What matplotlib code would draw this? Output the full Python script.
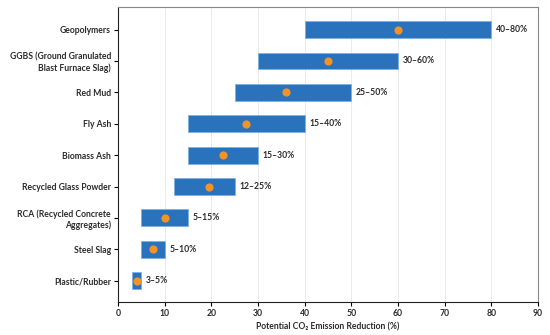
import matplotlib
matplotlib.use("Agg")
import matplotlib.pyplot as plt
import numpy as np

materials = ["Geopolymers", "GGBS (Ground Granulated\nBlast Furnace Slag)", "Red Mud",
             "Fly Ash", "Biomass Ash", "Recycled Glass Powder",
             "RCA (Recycled Concrete\nAggregates)", "Steel Slag", "Plastic/Rubber"]
low = [40, 30, 25, 15, 15, 12, 5, 5, 3]
high = [80, 60, 50, 40, 30, 25, 15, 10, 5]
typical = [60, 45, 36, 27.5, 22.5, 19.5, 10, 7.5, 4]
range_labels = ["40\u201380%", "30\u201360%", "25\u201350%", "15\u201340%", "15\u201330%",
                "12\u201325%", "5\u201315%", "5\u201310%", "3\u20135%"]

plt.rcParams['font.family'] = ['Lato', 'DejaVu Sans']
FS = 6.2
FW = 'bold'
TC = '#2b2b2b'

fig = plt.figure(figsize=(5.5, 3.35), dpi=100)
ax = fig.add_axes([118/550, 1-302/335, 420/550, 295/335])

y = np.arange(len(materials))
widths = np.array(high) - np.array(low)
ax.barh(y, widths, left=low, height=0.54, color='#2a72bc', edgecolor='#7fb2e0',
        linewidth=0.6, zorder=2)
ax.scatter(typical, y, s=24, color='#f39325', zorder=3)
for yi, h, lab in zip(y, high, range_labels):
    ax.text(h + 1, yi, lab, va='center', ha='left', fontsize=FS,
            fontweight=FW, color=TC)

ax.set_xlim(0, 90)
ax.set_ylim(8.68, -0.72)
ax.set_xticks(np.arange(0, 91, 10))
ax.set_yticks(y)
ax.set_yticklabels(materials, fontsize=FS, fontweight=FW, color=TC)
ax.tick_params(axis='x', labelsize=FS, length=3, width=0.8, pad=2)
ax.tick_params(axis='y', length=3, width=0.8, pad=2)
for lab in ax.get_xticklabels():
    lab.set_fontweight(FW)
    lab.set_color(TC)
ax.set_xlabel("Potential CO\u2082 Emission Reduction (%)", fontsize=FS,
              fontweight=FW, color=TC, labelpad=3)
ax.xaxis.grid(True, color='#e6e6e6', linewidth=0.6, zorder=0)
ax.set_axisbelow(True)
ax.spines['left'].set_color('#222222')
ax.spines['bottom'].set_color('#222222')
ax.spines['top'].set_color('#888888')
ax.spines['right'].set_color('#888888')

fig.savefig("out.png", dpi=100)
